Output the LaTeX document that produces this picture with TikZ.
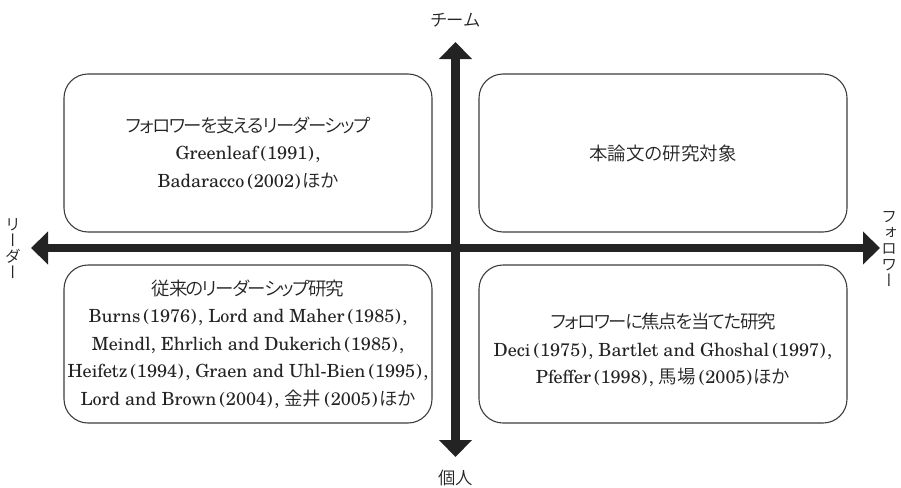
\documentclass[tikz,border=0pt]{standalone}
\usepackage{fontspec}
\IfFontExistsTF{texgyreschola-regular.otf}{%
  \setmainfont{texgyreschola-regular.otf}\def\bodysize{18.1}\def\jscale{1.02}}{%
  \setmainfont{Liberation Serif}\def\bodysize{20.5}\def\jscale{0.9}}
\IfFontExistsTF{Noto Sans CJK JP DemiLight}{\def\jpname{Noto Sans CJK JP DemiLight}}{%
  \IfFontExistsTF{Noto Sans CJK JP Light}{\def\jpname{Noto Sans CJK JP Light}}{%
    \def\jpname{Noto Sans CJK JP}}}
\newfontfamily\jp[Scale=\jscale,RawFeature=+palt]{\jpname}
\newfontfamily\jpk[Scale=\jscale,RawFeature=+palt,LetterSpace=-8]{\jpname}
\newfontfamily\jpv[RawFeature=+vert]{\jpname}
\usetikzlibrary{arrows.meta}
\definecolor{ink}{RGB}{35,35,35}
\definecolor{edge}{RGB}{60,60,60}
\newcommand\yr[1]{\kern3pt(\kern0.5pt#1\kern0.5pt)\kern1.5pt}
\begin{document}
\begin{tikzpicture}[x=1pt,y=-1pt,
  qbox/.style={draw=edge, line width=1.1pt, rounded corners=24pt,
    minimum width=368pt, minimum height=158pt, inner sep=0pt},
  btext/.style={align=center, font=\fontsize{\bodysize}{27.5}\selectfont, text=ink, inner sep=0pt},
  axlabel/.style={font=\fontsize{17}{17}\selectfont\jp, text=ink, inner sep=0pt},
  vlabel/.style={align=center, font=\fontsize{16}{16}\selectfont\jpv, text=ink, inner sep=0pt},
  axis/.style={line width=8.5pt, draw=ink,
    {Triangle[length=17pt,width=32pt]}-{Triangle[length=17pt,width=32pt]}}]
\useasboundingbox (0,0) rectangle (901,487);
% boxes
\node[qbox] (tl) at (248,153) {};
\node[qbox] (tr) at (663,153) {};
\node[qbox] (bl) at (248,344) {};
\node[qbox] (br) at (663,344) {};
% box texts
\node[btext] (tlt) at (tl.center) {{\jpk フォロワーを支えるリーダーシップ}\\Greenleaf\yr{1991},\\Badaracco\yr{2002}{\jp ほか}};
\node[btext] (trt) at (tr.center) {{\jp 本論文の研究対象}};
\node[btext] (blt) at (bl.center) {{\jpk 従来のリーダーシップ研究}\\Burns\yr{1976}, Lord and Maher\yr{1985},\\Meindl, Ehrlich and Dukerich\yr{1985},\\Heifetz\yr{1994}, Graen and Uhl-Bien\yr{1995},\\Lord and Brown\yr{2004}, {\jp 金井}\yr{2005}{\jp ほか}};
\node[btext] (brt) at ([yshift=-6pt]br.center) {{\jpk フォロワーに焦点を当てた研究}\\Deci\yr{1975}, Bartlet and Ghoshal\yr{1997},\\Pfeffer\yr{1998}, {\jp 馬場}\yr{2005}{\jp ほか}};
% axes
\coordinate (W) at (31,248);
\coordinate (E) at (880,248);
\coordinate (N) at (455.5,42);
\coordinate (S) at (455.5,457);
\draw[axis] (W) -- (E);
\draw[axis] (S) -- (N);
% axis labels
\node[axlabel] (team) at (455.5,20) {チーム};
\node[axlabel] (indiv) at (455.5,478) {個人};
\node[vlabel] (leader) at (13,249) {リ\\ー\\ダ\\ー};
\node[vlabel] (follower) at (889,249) {フ\\ォ\\ロ\\ワ\\ー};
\end{tikzpicture}
\end{document}
